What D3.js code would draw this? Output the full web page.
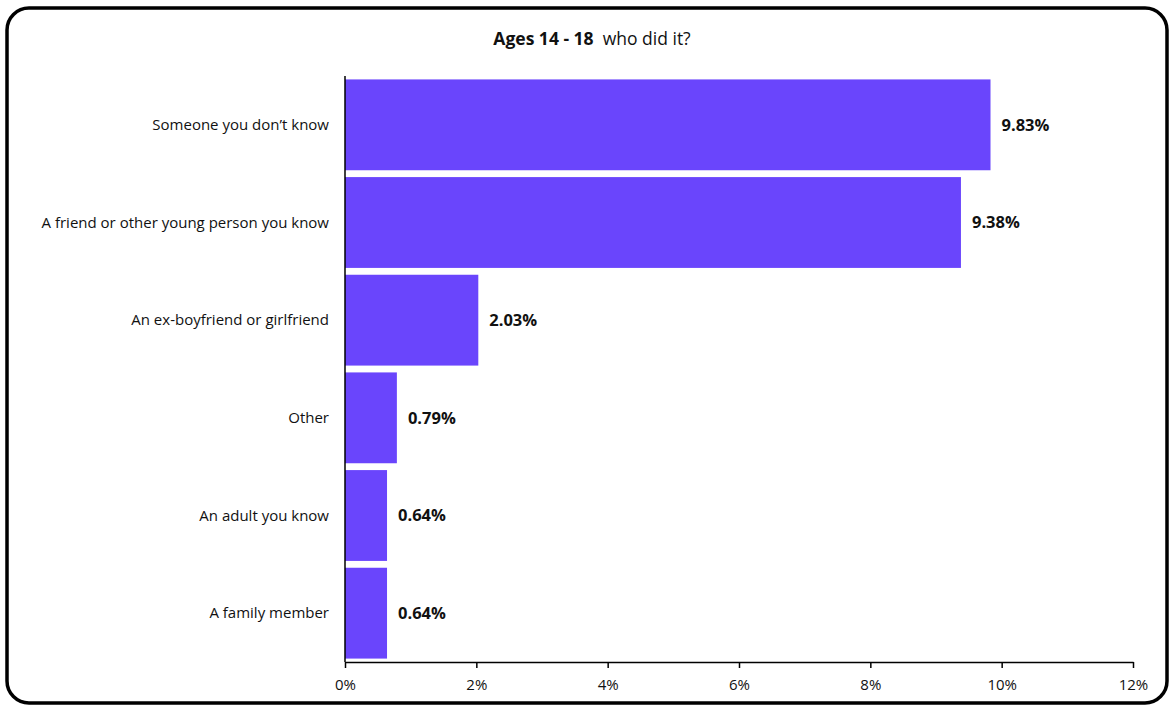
<!DOCTYPE html>
<html>
<head>
<meta charset="utf-8">
<script src="https://cdn.jsdelivr.net/npm/d3@7"></script>
<style>
  html, body { margin: 0; padding: 0; background: #fff; }
  svg { display: block; }
  text { font-family: "Open Sans", "Liberation Sans", sans-serif; fill: #111; }
</style>
</head>
<body>
<svg id="chart" width="1175" height="708"></svg>
<script>
// Who did it — ages 14-18 (percent of respondents)
const categories = [
  "Someone you don\u2019t know",
  "A friend or other young person you know",
  "An ex-boyfriend or girlfriend",
  "Other",
  "An adult you know",
  "A family member"
];
const values = [9.83, 9.38, 2.03, 0.79, 0.64, 0.64];
const xTicks = [0, 2, 4, 6, 8, 10, 12];

const svg = d3.select("#chart");
const W = 1175, H = 708;
const margin = { top: 76, right: 42, bottom: 46, left: 345 };

// rounded frame
svg.append("rect")
  .attr("x", 7).attr("y", 8)
  .attr("width", W - 15).attr("height", H - 13)
  .attr("rx", 22).attr("ry", 22)
  .attr("fill", "#fff").attr("stroke", "#000").attr("stroke-width", 3.5);

const x = d3.scaleLinear().domain([0, 12]).range([margin.left, W - margin.right]);
const y = d3.scaleBand().domain(categories)
  .range([margin.top, H - margin.bottom])
  .paddingInner(0.07).paddingOuter(0.035);

// title
const title = svg.append("text")
  .attr("x", 592).attr("y", 45)
  .attr("text-anchor", "middle")
  .style("font-size", "17.5px");
title.append("tspan").style("font-weight", "bold").text("Ages 14 - 18");
title.append("tspan").text("\u00a0 who did it?");

// bars
svg.append("g").selectAll("rect")
  .data(values)
  .join("rect")
  .attr("x", x(0))
  .attr("y", (d, i) => y(categories[i]))
  .attr("width", d => x(d) - x(0))
  .attr("height", y.bandwidth())
  .attr("fill", "#6a45fc");

// value labels
svg.append("g").selectAll("text")
  .data(values)
  .join("text")
  .attr("x", d => x(d) + 11)
  .attr("y", (d, i) => y(categories[i]) + y.bandwidth() / 2)
  .attr("dy", "0.35em")
  .style("font-size", "16.5px")
  .style("font-weight", "bold")
  .text(d => d.toFixed(2) + "%");

// category labels
svg.append("g").selectAll("text")
  .data(categories)
  .join("text")
  .attr("x", margin.left - 16)
  .attr("y", d => y(d) + y.bandwidth() / 2)
  .attr("dy", "0.35em")
  .attr("text-anchor", "end")
  .style("font-size", "15px")
  .text(d => d);

// x axis
const xAxis = svg.append("g")
  .attr("transform", `translate(0,${H - margin.bottom})`)
  .call(d3.axisBottom(x).tickValues(xTicks).tickFormat(d => d + "%").tickSize(6).tickSizeOuter(0));
xAxis.select(".domain").attr("stroke", "#000").attr("stroke-width", 1.5);
xAxis.selectAll(".tick line").attr("stroke", "#000").attr("stroke-width", 1.5);
xAxis.selectAll(".tick text")
  .attr("dy", "1.25em")
  .style("font-size", "15px")
  .style("font-family", "\"Open Sans\", sans-serif")
  .attr("fill", "#111");

// y axis line
svg.append("line")
  .attr("x1", x(0)).attr("x2", x(0))
  .attr("y1", margin.top).attr("y2", H - margin.bottom)
  .attr("stroke", "#000").attr("stroke-width", 1.5);
</script>
</body>
</html>
